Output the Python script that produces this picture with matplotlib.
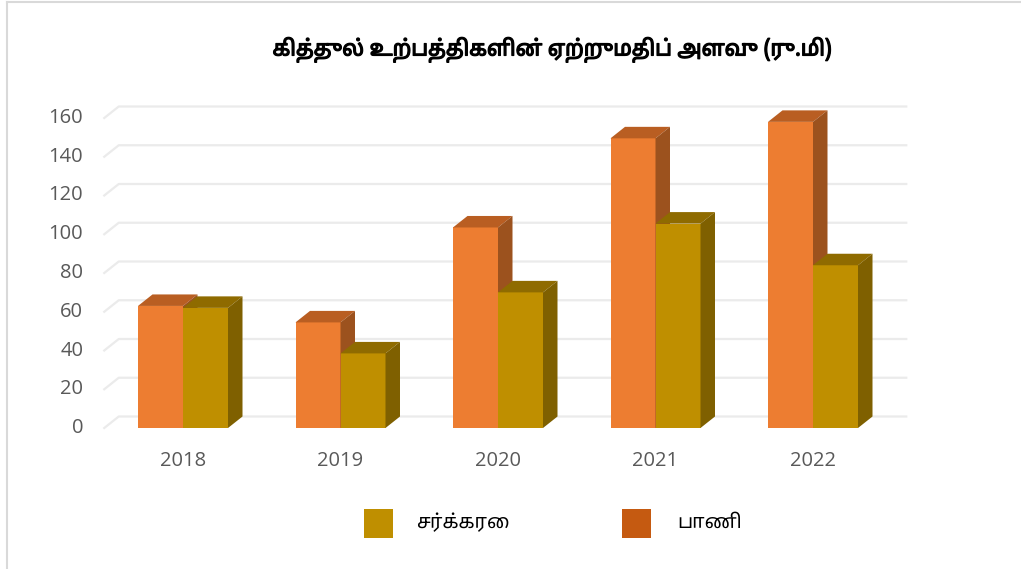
import matplotlib
matplotlib.use("Agg")
import matplotlib.pyplot as plt
from matplotlib.patches import Polygon, Rectangle
from matplotlib.lines import Line2D
import matplotlib.patheffects as pe

years = ["2018", "2019", "2020", "2021", "2022"]
pani = [63, 54.5, 103.5, 149.5, 158]
sugar = [62, 38.5, 70, 105.5, 84]
yticks = [0, 20, 40, 60, 80, 100, 120, 140, 160]
title = "கித்துல் உற்பத்திகளின் ஏற்றுமதிப் அளவு (ரு.மி)"
label_sugar = "சர்க்கரை"
label_pani = "பாணி"

c_pani = ("#ED7D31", "#B95E22", "#9C521E")
c_sugar = ("#BF8F00", "#8F6B00", "#7F6000")
c_pani_leg = "#C55A11"

tamil_fonts = ["Noto Sans Tamil", "Lohit Tamil", "Latha", "Noto Sans", "DejaVu Sans"]
num_font = ["Open Sans", "DejaVu Sans"]

W, H = 1021, 569
fig = plt.figure(figsize=(W / 100, H / 100), dpi=100)
fig.patch.set_facecolor("white")

left_px, right_px = 104.25, 891.75
y0_px, y160_px = 428, 118
ax = fig.add_axes([left_px / W, (H - y0_px) / H, (right_px - left_px) / W, (y0_px - y160_px) / H])
ax.set_xlim(-0.5, 4.5)
ax.set_ylim(0, 160)
ax.axis("off")

px_x = (right_px - left_px) / 5.0
px_y = (y0_px - y160_px) / 160.0
ddx = 14.5 / px_x
ddy = 11.5 / px_y

for v in yticks:
    ax.add_line(Line2D([-0.5, -0.5 + ddx, 4.5 + ddx], [v, v + ddy, v + ddy],
                       color="#EBEBEB", lw=1.6, clip_on=False, zorder=1))
    ax.text(-0.5 - 21 / px_x, v, str(v), ha="right", va="center", fontsize=14.5,
            color="#595959", family=num_font)

bw = 45.0 / px_x

def bar3d(x0, h, cols):
    front, top, side = cols
    ax.add_patch(Rectangle((x0, 0), bw, h, facecolor=front, edgecolor="none", zorder=3, clip_on=False))
    ax.add_patch(Polygon([(x0, h), (x0 + ddx, h + ddy), (x0 + bw + ddx, h + ddy), (x0 + bw, h)],
                         closed=True, facecolor=top, edgecolor="none", zorder=3, clip_on=False))
    ax.add_patch(Polygon([(x0 + bw, 0), (x0 + bw + ddx, ddy), (x0 + bw + ddx, h + ddy), (x0 + bw, h)],
                         closed=True, facecolor=side, edgecolor="none", zorder=3, clip_on=False))

for i, yr in enumerate(years):
    bar3d(i - bw, pani[i], c_pani)
    bar3d(i, sugar[i], c_sugar)
    ax.text(i, -33 / px_y, yr, ha="center", va="center", fontsize=14.5,
            color="#595959", family=num_font)

fig.text(552 / W, 1 - 50 / H, title, ha="center", va="center", fontsize=15.5,
         fontweight="bold", color="black", family=tamil_fonts,
         path_effects=[pe.withStroke(linewidth=0.9, foreground="black")])

for (x_sq, col, lab, x_t) in [(364, c_sugar[0], label_sugar, 416), (622, c_pani_leg, label_pani, 677)]:
    fig.patches.append(Rectangle((x_sq / W, 1 - 538 / H), 29 / W, 29 / H,
                                 transform=fig.transFigure, facecolor=col, edgecolor="none"))
    fig.text(x_t / W, 1 - 523 / H, lab, ha="left", va="center", fontsize=14,
             color="black", family=tamil_fonts)

fig.add_artist(Line2D([7 / W, 1], [1 - 1.5 / H, 1 - 1.5 / H], transform=fig.transFigure,
                      color="#D9D9D9", lw=1.5))
fig.add_artist(Line2D([7 / W, 7 / W], [0, 1 - 1.5 / H], transform=fig.transFigure,
                      color="#D9D9D9", lw=1.5))

fig.savefig("out.png", dpi=100, facecolor="white")
